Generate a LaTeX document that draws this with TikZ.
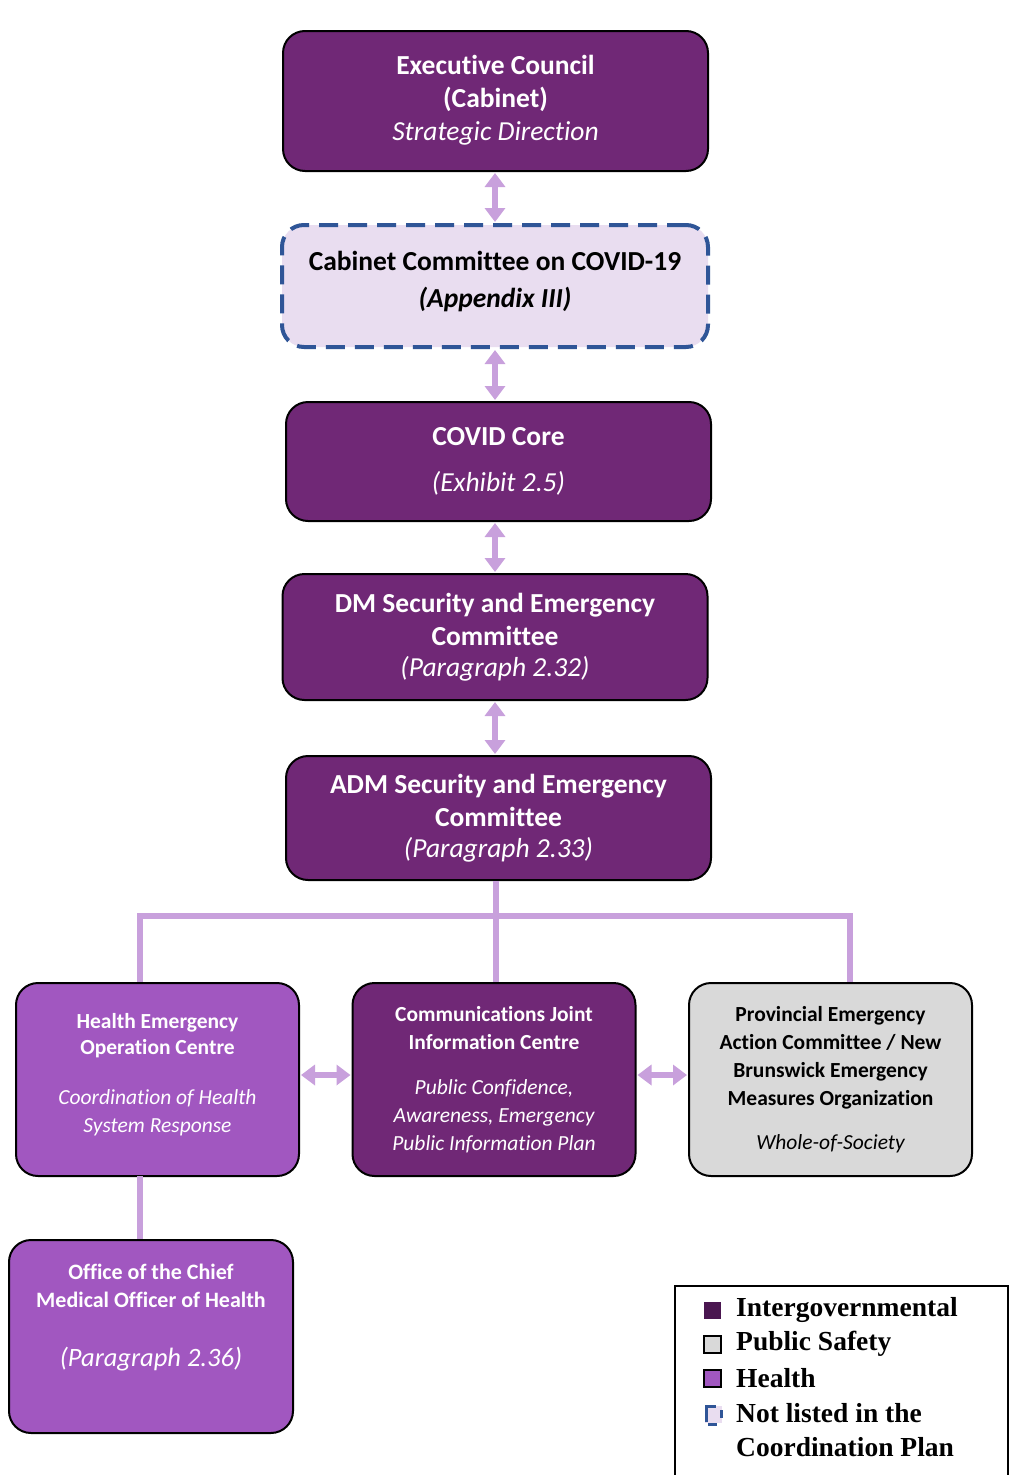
\documentclass[tikz,border=0pt]{standalone}
\usepackage{fontspec}
\setmainfont{Carlito}[Ligatures=NoCommon]
\newfontfamily\legfont{Liberation Serif}
\usetikzlibrary{arrows.meta}
\definecolor{dpurple}{RGB}{112,40,118}
\definecolor{hpurple}{RGB}{161,87,192}
\definecolor{connc}{RGB}{200,160,220}
\definecolor{lav}{RGB}{233,221,240}
\definecolor{dblue}{RGB}{47,85,151}
\definecolor{lgrey}{RGB}{217,217,217}
\definecolor{legdark}{RGB}{74,22,80}
\begin{document}
\begin{tikzpicture}[x=1pt,y=-1pt,
  box/.style={draw=black, line width=2pt, rounded corners=22pt, align=center, inner sep=0pt},
  topbox/.style={box, fill=dpurple, text=white, minimum width=425pt, font=\fontsize{27.5}{33}\selectfont\bfseries},
  lowbox/.style={box, minimum width=283pt, minimum height=193pt, font=\fontsize{21.5}{28}\selectfont\bfseries},
  dbl/.style={draw=connc, line width=6pt, {Triangle[width=20pt,length=14pt]}-{Triangle[width=20pt,length=14pt]}, shorten <=1pt, shorten >=1pt},
  connline/.style={draw=connc, line width=6pt},
  legtext/.style={anchor=west, inner sep=0pt, font=\legfont\fontsize{27.5}{30}\selectfont\bfseries},
  legsq/.style={minimum size=17pt, inner sep=0pt, line width=2pt}
]
\useasboundingbox (0,0) rectangle (1009,1475);
\fill[white] (0,0) rectangle (1009,1475);

% top column
\node[topbox, minimum height=140pt] (exec) at (495.5,101) {Executive Council\\(Cabinet)\\\mdseries\itshape Strategic Direction\\[-26pt]\mbox{}};
\node[box, fill=lav, draw=dblue, line width=4pt, dash pattern=on 19pt off 10pt, minimum width=426pt, minimum height=122pt, font=\fontsize{27.5}{37}\selectfont\bfseries] (cab) at (495,286) {Cabinet Committee on COVID-19\\\itshape (Appendix III)\\[-23pt]\mbox{}};
\node[topbox, minimum height=119pt, font=\fontsize{27.5}{46}\selectfont\bfseries] (core) at (498.5,461.5) {COVID Core\\\mdseries\itshape (Exhibit 2.5)};
\node[topbox, minimum height=126pt] (dm) at (495,637) {DM Security and Emergency\\Committee\\[-2pt]\mdseries\itshape (Paragraph 2.32)};
\node[topbox, minimum height=124pt] (adm) at (498.5,818) {ADM Security and Emergency\\Committee\\[-2pt]\mdseries\itshape (Paragraph 2.33)};

% bottom row
\node[lowbox, fill=hpurple, text=white] (heoc) at (157.5,1079.5) {Health Emergency\\[-2pt]Operation Centre\\[22pt]\mdseries\itshape Coordination of Health\\\mdseries\itshape System Response\\[-14pt]\mbox{}};
\node[lowbox, fill=dpurple, text=white] (comms) at (494,1079.5) {Communications Joint\\Information Centre\\[17pt]\mdseries\itshape Public Confidence,\\\mdseries\itshape Awareness, Emergency\\\mdseries\itshape Public Information Plan};
\node[lowbox, fill=lgrey, text=black] (prov) at (830.5,1079.5) {Provincial Emergency\\Action Committee / New\\Brunswick Emergency\\Measures Organization\\[16pt]\mdseries\itshape Whole-of-Society};
\node[lowbox, fill=hpurple, text=white, minimum width=284pt] (office) at (151,1336.5) {};
\node[align=center, text=white, inner sep=0pt, font=\fontsize{22}{28}\selectfont\bfseries] (officetxt) at (151,1318) {Office of the Chief\\Medical Officer of Health\\[31pt]\mdseries\itshape\fontsize{26.5}{28}\selectfont (Paragraph 2.36)};

% vertical double arrows
\coordinate (ax) at (495,0);
\draw[dbl] (ax |- exec.south) -- (ax |- cab.north);
\draw[dbl] (ax |- cab.south) -- (ax |- core.north);
\draw[dbl] (ax |- core.south) -- (ax |- dm.north);
\draw[dbl] (ax |- dm.south) -- (ax |- adm.north);

% tree
\coordinate (jm) at (496,916);
\coordinate (jl) at (140,916);
\coordinate (jr) at (850,916);
\draw[connline] (jm |- adm.south) -- (jm);
\draw[connline, line cap=rect] (jl) -- (jr);
\draw[connline] (jl) -- (jl |- heoc.north);
\draw[connline] (jr) -- (jr |- prov.north);
\draw[connline] (jm) -- (jm |- comms.north);
\draw[connline] (140,1176) coordinate (hb) -- (hb |- office.north);

% horizontal double arrows
\coordinate (ay) at (0,1075);
\draw[dbl] (ay -| heoc.east) -- (ay -| comms.west);
\draw[dbl] (ay -| comms.east) -- (ay -| prov.west);

% legend
\draw[line width=1.5pt] (675,1286) coordinate (legtl) rectangle (1008,1480);
\node[legsq, fill=legdark] (sq1) at (712,1310) {};
\node[legtext] (l1) at (736,1310) {Intergovernmental};
\node[legsq, fill=lgrey, draw=black] (sq2) at (712,1344) {};
\node[legtext] (l2) at (736,1344) {Public Safety};
\node[legsq, fill=hpurple, draw=black] (sq3) at (712,1378) {};
\node[legtext] (l3) at (736,1378) {Health};
\node[legsq, fill=lav] (sq4) at (713,1414) {};
\draw[dblue, line width=3pt] (706,1422) -- (706,1406) -- (716,1406);
\draw[dblue, line width=3pt] (721,1410) -- (721,1418);
\draw[dblue, line width=3pt] (708,1424) -- (717,1424);
\node[legtext] (l4) at (736,1413) {Not listed in the};
\node[legtext] (l5) at (736,1447) {Coordination Plan};
\end{tikzpicture}
\end{document}
